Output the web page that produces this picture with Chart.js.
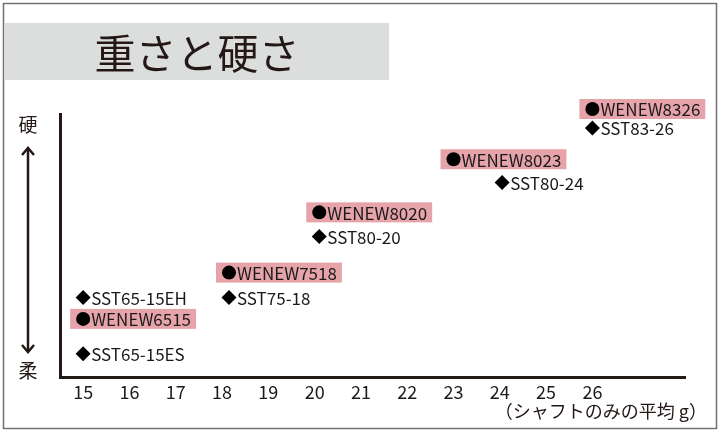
<!DOCTYPE html>
<html>
<head>
<meta charset="utf-8">
<script src="https://cdn.jsdelivr.net/npm/chart.js@4/dist/chart.umd.min.js"></script>
<style>
  html, body { margin: 0; padding: 0; background: #fff; }
  #wrap { width: 720px; height: 432px; position: relative; }
</style>
</head>
<body>
<div id="wrap"><canvas id="chart" width="720" height="432"></canvas></div>
<script>
const FONT = '"Noto Sans CJK JP", "Noto Sans", sans-serif';
const INK = '#231815';

// x: シャフトのみの平均 g, y: hardness (0 = 柔, 100 = 硬)
const xTicks = [15, 16, 17, 18, 19, 20, 21, 22, 23, 24, 25, 26];

const wenewNames = ['WENEW6515', 'WENEW7518', 'WENEW8020', 'WENEW8023', 'WENEW8326'];
const wenewWeight = [15, 18.15, 20.1, 23.0, 26.0];
const wenewStiffness = [22.1, 39.7, 62.6, 82.8, 101.9];

const sstNames = ['SST65-15ES', 'SST65-15EH', 'SST75-18', 'SST80-20', 'SST80-24', 'SST83-26'];
const sstWeight = [15, 15, 18.15, 20.1, 24.05, 26.0];
const sstStiffness = [8.8, 30.2, 30.2, 53.4, 74.0, 94.7];

const title = '重さと硬さ';
const xUnitLabel = '（シャフトのみの平均 g）';

const toPoints = (xs, ys) => xs.map((x, i) => ({ x: x, y: ys[i] }));

// Frame, title box, hardness arrow and labels beside each point
const decorations = {
    id: 'decorations',
    beforeDraw(chart) {
        const ctx = chart.ctx;
        ctx.save();
        ctx.fillStyle = '#fff';
        ctx.fillRect(0, 0, chart.width, chart.height);

        // outer frame
        ctx.strokeStyle = '#707070';
        ctx.lineWidth = 1.5;
        ctx.strokeRect(3.5, 3.5, 713, 425);

        // title
        ctx.fillStyle = '#dcdddd';
        ctx.fillRect(5, 23, 384, 57);
        ctx.fillStyle = INK;
        ctx.font = '41px ' + FONT;
        ctx.textAlign = 'center';
        ctx.textBaseline = 'middle';
        ctx.fillText(title, 197, 53);

        // hardness arrow
        ctx.font = '19px ' + FONT;
        ctx.fillText('硬', 28, 125);
        ctx.fillText('柔', 28, 371);
        ctx.strokeStyle = INK;
        ctx.lineWidth = 2.5;
        ctx.beginPath();
        ctx.moveTo(28, 149);
        ctx.lineTo(28, 351);
        ctx.stroke();
        ctx.beginPath();
        ctx.moveTo(22, 155); ctx.lineTo(28, 148); ctx.lineTo(34, 155);
        ctx.moveTo(22, 345); ctx.lineTo(28, 352); ctx.lineTo(34, 345);
        ctx.stroke();

        // x unit label
        ctx.font = '18px ' + FONT;
        ctx.textAlign = 'right';
        ctx.fillText(xUnitLabel, 707, 411);
        ctx.restore();
    },
    beforeDatasetsDraw(chart) {
        const ctx = chart.ctx;
        ctx.save();
        ctx.font = '17px ' + FONT;
        const meta = chart.getDatasetMeta(0);
        ctx.fillStyle = '#e6a3aa';
        meta.data.forEach((pt, i) => {
            const w = ctx.measureText(wenewNames[i]).width;
            ctx.fillRect(pt.x - 13, pt.y - 10, w + 26, 20);
        });
        ctx.restore();
    },
    afterDatasetsDraw(chart) {
        const ctx = chart.ctx;
        ctx.save();
        ctx.font = '17px ' + FONT;
        ctx.fillStyle = '#1a1a1a';
        ctx.textAlign = 'left';
        ctx.textBaseline = 'middle';
        const names = [wenewNames, sstNames];
        names.forEach((list, d) => {
            chart.getDatasetMeta(d).data.forEach((pt, i) => {
                ctx.fillText(list[i], pt.x + 8, pt.y + 1);
            });
        });
        ctx.restore();
    }
};

new Chart(document.getElementById('chart'), {
    type: 'scatter',
    data: {
        datasets: [
            {
                label: 'WENEW',
                data: toPoints(wenewWeight, wenewStiffness),
                pointStyle: 'circle',
                pointRadius: 7,
                backgroundColor: '#000',
                borderWidth: 0,
                clip: false
            },
            {
                label: 'SST',
                data: toPoints(sstWeight, sstStiffness),
                pointStyle: 'rectRot',
                pointRadius: 7.5,
                backgroundColor: '#000',
                borderWidth: 0,
                clip: false
            }
        ]
    },
    options: {
        responsive: false,
        animation: false,
        layout: {
            padding: { left: 60, right: 35, top: 114, bottom: 20 }
        },
        plugins: {
            legend: { display: false },
            tooltip: { enabled: false }
        },
        scales: {
            x: {
                type: 'linear',
                min: 14.5,
                max: 28,
                afterBuildTicks: (scale) => {
                    scale.ticks = xTicks.map(v => ({ value: v }));
                },
                afterFit: (scale) => { scale.height = 35; },
                grid: { display: false },
                border: { display: true, color: INK, width: 3 },
                ticks: {
                    color: '#1a1a1a',
                    font: { size: 18, family: FONT },
                    padding: -4,
                    maxRotation: 0,
                    autoSkip: false
                }
            },
            y: {
                type: 'linear',
                min: 0,
                max: 100,
                afterFit: (scale) => { scale.width = 0; },
                grid: { display: false },
                border: { display: true, color: INK, width: 3 },
                ticks: { display: false }
            }
        }
    },
    plugins: [decorations]
});
</script>
</body>
</html>
